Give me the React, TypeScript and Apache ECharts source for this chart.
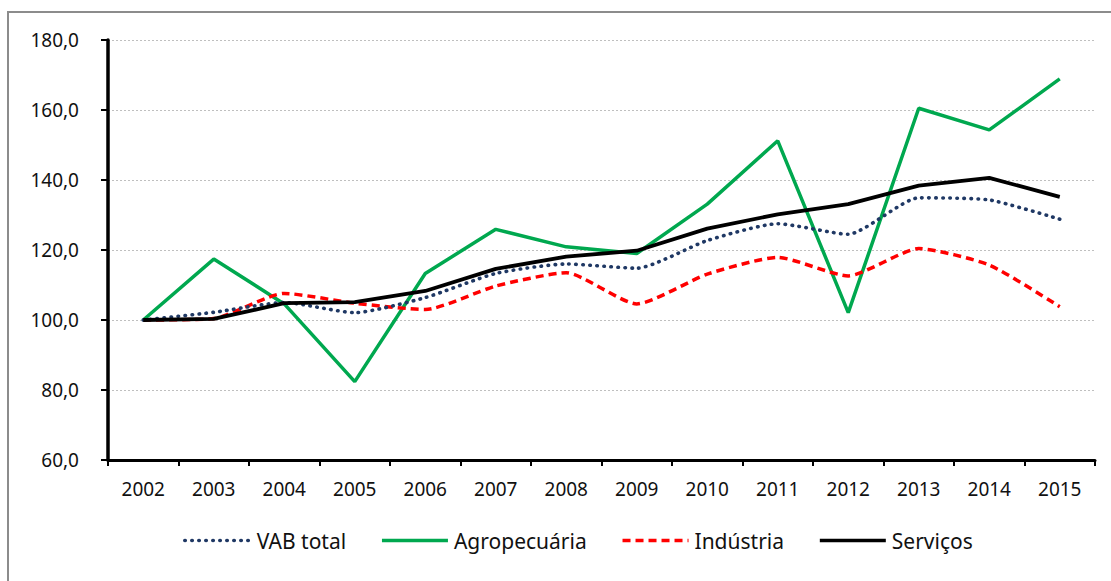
import React, { useEffect, useRef } from "react";
import * as echarts from "echarts";

const years = ["2002","2003","2004","2005","2006","2007","2008","2009","2010","2011","2012","2013","2014","2015"];
const vabTotal = [100.0,102.2,105.0,102.1,106.4,113.3,116.0,114.8,122.7,127.5,124.5,134.9,134.3,128.8];
const agro = [100.0,117.4,104.6,82.4,113.3,125.9,120.9,119.0,133.1,151.2,102.1,160.5,154.3,168.9];
const industria = [100.0,100.4,107.6,104.8,103.0,109.7,113.5,104.6,113.1,117.9,112.6,120.4,115.7,103.8];
const servicos = [100.0,100.3,104.8,105.1,108.3,114.6,118.1,119.8,126.1,130.2,133.1,138.4,140.6,135.2];
const yTicks = [60, 80, 100, 120, 140, 160, 180];

const FONT = "'Noto Sans', sans-serif";
const TXT = "#111111";

export default function App() {
  const ref = useRef<HTMLDivElement>(null);
  useEffect(() => {
    if (!ref.current) return;
    const chart = echarts.init(ref.current, undefined, { renderer: "svg" });
    chart.setOption({
      animation: false,
      backgroundColor: "#ffffff",
      textStyle: { fontFamily: FONT },
      graphic: [
        {
          type: "rect",
          shape: { x: 8, y: 12, width: 1300, height: 800 },
          style: { fill: "none", stroke: "#8c8c8c", lineWidth: 2 },
          silent: true,
        },
      ],
      grid: { left: 108, right: 16, top: 40, bottom: 121 },
      legend: {
        top: 525,
        left: 178,
        itemWidth: 66,
        itemHeight: 14,
        itemGap: 34,
        itemStyle: { opacity: 0 },
        lineStyle: { width: 3.6 },
        textStyle: { fontSize: 21, color: TXT, fontFamily: FONT, padding: [0, 0, 0, 1] },
        data: ["VAB total", "Agropecuária", "Indústria", "Serviços"],
      },
      xAxis: {
        type: "category",
        data: years,
        boundaryGap: true,
        axisLine: { lineStyle: { color: "#000", width: 3 } },
        axisTick: { show: true, length: 6, lineStyle: { color: "#000", width: 2 } },
        axisLabel: { fontSize: 19, color: TXT, margin: 19, fontFamily: FONT },
      },
      yAxis: {
        type: "value",
        min: yTicks[0],
        max: yTicks[yTicks.length - 1],
        interval: 20,
        axisLine: { show: true, lineStyle: { color: "#000", width: 3.5 } },
        axisTick: { show: true, length: 7, lineStyle: { color: "#000", width: 2 } },
        axisLabel: {
          fontSize: 19,
          color: TXT,
          margin: 29,
          fontFamily: FONT,
          formatter: (v: number) => v.toFixed(1).replace(".", ","),
        },
        splitLine: { show: true, lineStyle: { color: "#bfbfbf", type: [2, 2], width: 1.2 } },
      },
      series: [
        {
          name: "VAB total",
          type: "line",
          data: vabTotal,
          symbol: "none",
          smooth: 0.2,
          z: 3,
          lineStyle: { color: "#1f3864", width: 3.6, type: [0.5, 6.5], cap: "round" },
          itemStyle: { color: "#1f3864" },
        },
        {
          name: "Agropecuária",
          type: "line",
          data: agro,
          symbol: "none",
          z: 2,
          lineStyle: { color: "#00a84f", width: 3.5 },
          itemStyle: { color: "#00a84f" },
        },
        {
          name: "Indústria",
          type: "line",
          data: industria,
          symbol: "none",
          smooth: 0.2,
          z: 2,
          lineStyle: { color: "#ff0000", width: 3.5, type: [8, 5] },
          itemStyle: { color: "#ff0000" },
        },
        {
          name: "Serviços",
          type: "line",
          data: servicos,
          symbol: "none",
          z: 4,
          lineStyle: { color: "#000000", width: 3.8 },
          itemStyle: { color: "#000000" },
        },
      ],
    });
    return () => chart.dispose();
  }, []);
  return (
    <div
      ref={ref}
      style={{ position: "absolute", left: 0, top: 0, width: 1111, height: 581 }}
    />
  );
}
